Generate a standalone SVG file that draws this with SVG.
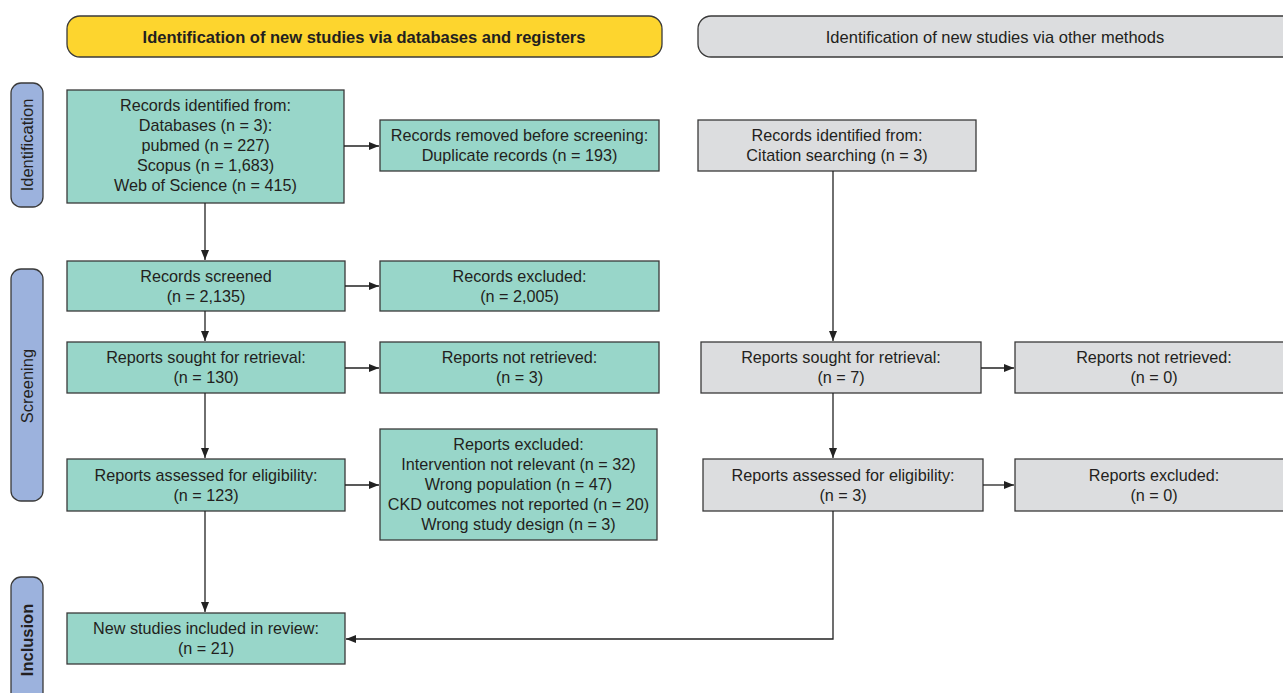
<svg xmlns="http://www.w3.org/2000/svg" width="1283" height="693" viewBox="0 0 1283 693">
<style>
  .t{font-family:"Liberation Sans",Arial,sans-serif;font-size:16.2px;fill:#231f20;text-anchor:middle}
  .hb{font-family:"Liberation Sans",Arial,sans-serif;font-size:16.5px;font-weight:bold;fill:#231f20;text-anchor:middle}
  .hn{font-family:"Liberation Sans",Arial,sans-serif;font-size:16.5px;fill:#231f20;text-anchor:middle}
  .side{font-family:"Liberation Sans",Arial,sans-serif;font-size:16.5px;fill:#231f20;text-anchor:middle}
  .teal{fill:#98d6c9;stroke:#3a3a3a;stroke-width:1.3}
  .gray{fill:#dcdddf;stroke:#3a3a3a;stroke-width:1.3}
  .lab{fill:#9cb2dd;stroke:#3a3a3a;stroke-width:1.3}
  .con{fill:none;stroke:#222;stroke-width:1.3}
</style>
<defs>
  <marker id="ah" markerWidth="10" markerHeight="8" refX="10" refY="4" orient="auto" markerUnits="userSpaceOnUse">
    <path d="M0,0 L10,4 L0,8 Z" fill="#222"/>
  </marker>
</defs>
<rect width="1283" height="693" fill="#ffffff"/>

<g id="banner-db">
  <rect x="67" y="16" width="595" height="41" rx="13" fill="#fdd52e" stroke="#3a3a3a" stroke-width="1.3"/>
  <text class="hb" x="364" y="42.5">Identification of new studies via databases and registers</text>
</g>
<g id="banner-other">
  <rect x="698" y="16" width="600" height="41" rx="13" fill="#dcdddf" stroke="#3a3a3a" stroke-width="1.3"/>
  <text class="hn" x="995" y="42.5">Identification of new studies via other methods</text>
</g>

<g id="label-identification">
  <rect class="lab" x="11" y="83" width="32" height="124" rx="10"/>
  <text class="side" transform="translate(33,145) rotate(-90)">Identification</text>
</g>
<g id="label-screening">
  <rect class="lab" x="11" y="269" width="32" height="232" rx="10"/>
  <text class="side" transform="translate(33,386) rotate(-90)">Screening</text>
</g>
<g id="label-inclusion">
  <rect class="lab" x="11" y="577" width="32" height="130" rx="10"/>
  <text class="side" font-weight="bold" transform="translate(33,640) rotate(-90)">Inclusion</text>
</g>

<g id="n-records-identified">
  <rect class="teal" x="67" y="90" width="277" height="113"/>
  <text class="t" x="205.5" y="111">Records identified from:</text>
  <text class="t" x="205.5" y="131">Databases (n = 3):</text>
  <text class="t" x="205.5" y="151">pubmed (n = 227)</text>
  <text class="t" x="205.5" y="171">Scopus (n = 1,683)</text>
  <text class="t" x="205.5" y="191">Web of Science (n = 415)</text>
</g>
<g id="n-records-removed">
  <rect class="teal" x="380" y="120" width="279" height="51"/>
  <text class="t" x="519.5" y="141">Records removed before screening:</text>
  <text class="t" x="519.5" y="161">Duplicate records (n = 193)</text>
</g>
<g id="n-records-screened">
  <rect class="teal" x="67" y="261" width="278" height="50"/>
  <text class="t" x="206" y="282">Records screened</text>
  <text class="t" x="206" y="302">(n = 2,135)</text>
</g>
<g id="n-records-excluded">
  <rect class="teal" x="380" y="261" width="279" height="50"/>
  <text class="t" x="519.5" y="282">Records excluded:</text>
  <text class="t" x="519.5" y="302">(n = 2,005)</text>
</g>
<g id="n-sought">
  <rect class="teal" x="67" y="342" width="278" height="51"/>
  <text class="t" x="206" y="363">Reports sought for retrieval:</text>
  <text class="t" x="206" y="383">(n = 130)</text>
</g>
<g id="n-not-retrieved">
  <rect class="teal" x="380" y="342" width="279" height="51"/>
  <text class="t" x="519.5" y="363">Reports not retrieved:</text>
  <text class="t" x="519.5" y="383">(n = 3)</text>
</g>
<g id="n-assessed">
  <rect class="teal" x="67" y="459" width="278" height="52"/>
  <text class="t" x="206" y="481">Reports assessed for eligibility:</text>
  <text class="t" x="206" y="501">(n = 123)</text>
</g>
<g id="n-reports-excluded">
  <rect class="teal" x="380" y="429" width="277" height="111"/>
  <text class="t" x="518.5" y="450">Reports excluded:</text>
  <text class="t" x="518.5" y="470">Intervention not relevant (n = 32)</text>
  <text class="t" x="518.5" y="490">Wrong population (n = 47)</text>
  <text class="t" x="518.5" y="510">CKD outcomes not reported (n = 20)</text>
  <text class="t" x="518.5" y="530">Wrong study design (n = 3)</text>
</g>
<g id="n-included">
  <rect class="teal" x="67" y="613" width="278" height="51"/>
  <text class="t" x="206" y="634">New studies included in review:</text>
  <text class="t" x="206" y="654">(n = 21)</text>
</g>

<g id="o-records-identified">
  <rect class="gray" x="698" y="120" width="278" height="51"/>
  <text class="t" x="837" y="141">Records identified from:</text>
  <text class="t" x="837" y="161">Citation searching (n = 3)</text>
</g>
<g id="o-sought">
  <rect class="gray" x="701" y="342" width="280" height="51"/>
  <text class="t" x="841" y="363">Reports sought for retrieval:</text>
  <text class="t" x="841" y="383">(n = 7)</text>
</g>
<g id="o-not-retrieved">
  <rect class="gray" x="1015" y="342" width="280" height="51"/>
  <text class="t" x="1154" y="363">Reports not retrieved:</text>
  <text class="t" x="1154" y="383">(n = 0)</text>
</g>
<g id="o-assessed">
  <rect class="gray" x="703" y="459" width="280" height="52"/>
  <text class="t" x="843" y="481">Reports assessed for eligibility:</text>
  <text class="t" x="843" y="501">(n = 3)</text>
</g>
<g id="o-reports-excluded">
  <rect class="gray" x="1015" y="459" width="280" height="52"/>
  <text class="t" x="1154" y="481">Reports excluded:</text>
  <text class="t" x="1154" y="501">(n = 0)</text>
</g>

<g id="connectors">
  <path class="con" d="M344,146 H379" marker-end="url(#ah)"/>
  <path class="con" d="M205,203 V260" marker-end="url(#ah)"/>
  <path class="con" d="M345,286 H379" marker-end="url(#ah)"/>
  <path class="con" d="M205,311 V341" marker-end="url(#ah)"/>
  <path class="con" d="M345,368 H379" marker-end="url(#ah)"/>
  <path class="con" d="M205,393 V458" marker-end="url(#ah)"/>
  <path class="con" d="M345,485 H379" marker-end="url(#ah)"/>
  <path class="con" d="M205,511 V612" marker-end="url(#ah)"/>
  <path class="con" d="M833,171 V341" marker-end="url(#ah)"/>
  <path class="con" d="M981,368 H1014" marker-end="url(#ah)"/>
  <path class="con" d="M833,393 V458" marker-end="url(#ah)"/>
  <path class="con" d="M983,485 H1014" marker-end="url(#ah)"/>
  <path class="con" d="M833,511 V639 H346" marker-end="url(#ah)"/>
</g>
</svg>
